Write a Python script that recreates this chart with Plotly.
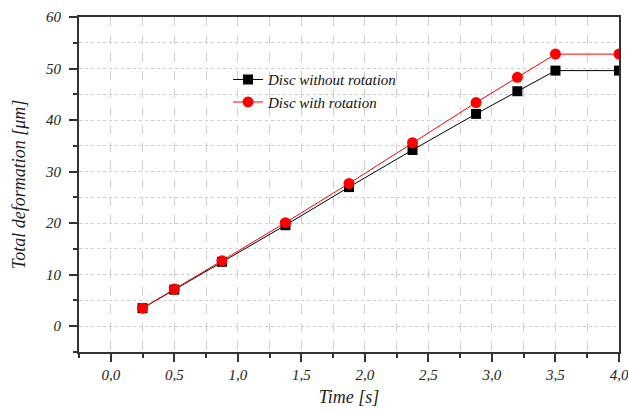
import plotly.graph_objects as go

time_s = [0.25, 0.5, 0.875, 1.375, 1.875, 2.375, 2.875, 3.2, 3.5, 4.0]
no_rotation = [3.5, 7.1, 12.5, 19.6, 27.0, 34.2, 41.2, 45.6, 49.6, 49.6]
with_rotation = [3.5, 7.2, 12.7, 20.1, 27.7, 35.6, 43.4, 48.3, 52.8, 52.8]

FONT = "Liberation Serif"
AX = "#333333"
GRID = "#cfcfcf"

fig = go.Figure()
fig.add_trace(go.Scatter(
    x=time_s, y=no_rotation, mode="lines+markers", name="Disc without rotation",
    line=dict(color="black", width=1),
    marker=dict(symbol="square", size=10, color="black"),
))
fig.add_trace(go.Scatter(
    x=time_s, y=with_rotation, mode="lines+markers", name="Disc with rotation",
    line=dict(color="red", width=1),
    marker=dict(symbol="circle", size=11, color="red"),
))

common = dict(
    showline=True, linecolor=AX, linewidth=2, mirror=True,
    ticks="outside", ticklen=8, tickwidth=1.5, tickcolor=AX,
    showgrid=True, gridcolor=GRID, gridwidth=1,
    zeroline=False, automargin=False,
    ticklabeloverflow="allow",
    tickfont=dict(family=FONT, size=15, color="#222", style="italic"),
)

fig.update_xaxes(
    range=[-0.25, 4.0], tick0=0, dtick=0.5, tickformat=".1f",
    griddash="dash",
    minor=dict(dtick=0.25, tick0=0, ticks="outside", ticklen=4, tickwidth=1.5,
               tickcolor=AX, showgrid=True, gridcolor=GRID, griddash="dash"),
    title=dict(text="Time [s]", font=dict(family=FONT, size=18, color="#222", style="italic"),
               standoff=8),
    **common,
)
fig.update_yaxes(
    range=[-5, 60], tick0=0, dtick=10,
    griddash="dot",
    ticklabelstandoff=5,
    minor=dict(dtick=5, tick0=0, ticks="outside", ticklen=4, tickwidth=1.5,
               tickcolor=AX, showgrid=True, gridcolor=GRID, griddash="dot"),
    title=dict(text="Total deformation [μm]", font=dict(family=FONT, size=18, color="#222", style="italic"),
               standoff=15),
    **common,
)

fig.update_layout(
    width=628, height=413,
    margin=dict(l=79, r=9, t=17, b=61),
    paper_bgcolor="white", plot_bgcolor="white",
    separators=",.",
    showlegend=True,
    legend=dict(x=0.276, y=0.862, xanchor="left", yanchor="top",
                bgcolor="rgba(0,0,0,0)",
                font=dict(family=FONT, size=15, color="#111", style="italic"),
                tracegroupgap=0),
)

fig.write_html("out.html",
               config={"displayModeBar": False},
               post_script="document.body.style.margin='0';document.body.style.overflow='hidden';")
